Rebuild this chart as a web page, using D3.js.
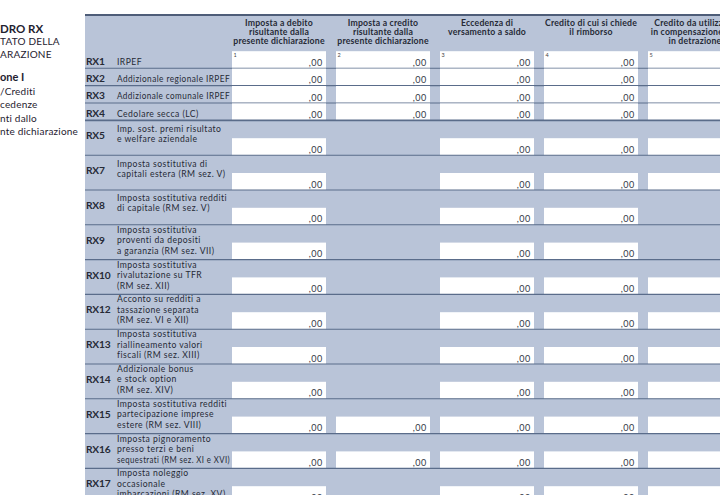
<!DOCTYPE html>
<html>
<head>
<meta charset="utf-8">
<script src="https://cdn.jsdelivr.net/npm/d3@7"></script>
<style>
html, body { margin: 0; padding: 0; background: #fff; overflow: hidden; }
svg { display: block; font-family: Lato, "Noto Sans", sans-serif; }
</style>
</head>
<body>
<script>
// rows of the form
var codes = ['RX1', 'RX2', 'RX3', 'RX4', 'RX5', 'RX7', 'RX8', 'RX9', 'RX10', 'RX12', 'RX13', 'RX14', 'RX15', 'RX16', 'RX17'];
var descriptions = [
    ['IRPEF'],
    ['Addizionale regionale IRPEF'],
    ['Addizionale comunale IRPEF'],
    ['Cedolare secca (LC)'],
    ['Imp. sost. premi risultato', 'e welfare aziendale'],
    ['Imposta sostitutiva di', 'capitali estera (RM sez. V)'],
    ['Imposta sostitutiva redditi', 'di capitale (RM sez. V)'],
    ['Imposta sostitutiva', 'proventi da depositi', 'a garanzia (RM sez. VII)'],
    ['Imposta sostitutiva', 'rivalutazione su TFR', '(RM sez. XII)'],
    ['Acconto su redditi a', 'tassazione separata', '(RM sez. VI e XII)'],
    ['Imposta sostitutiva', 'riallineamento valori', 'fiscali (RM sez. XIII)'],
    ['Addizionale bonus', 'e stock option', '(RM sez. XIV)'],
    ['Imposta sostitutiva redditi', 'partecipazione imprese', 'estere (RM sez. VIII)'],
    ['Imposta pignoramento', 'presso terzi e beni', 'sequestrati (RM sez. XI e XVI)'],
    ['Imposta noleggio', 'occasionale', 'imbarcazioni (RM sez. XV)']
];

// columns of the form
var fieldNumbers = ['1', '2', '3', '4', '5'];
var columnHeaders = [
    ['Imposta a debito', 'risultante dalla', 'presente dichiarazione'],
    ['Imposta a credito', 'risultante dalla', 'presente dichiarazione'],
    ['Eccedenza di', 'versamento a saldo'],
    ['Credito di cui si chiede', 'il rimborso'],
    ['Credito da utilizzare', 'in compensazione e/o', 'in detrazione']
];

// which fields each row has
var rowFields = [
    ['1', '2', '3', '4', '5'],
    ['1', '2', '3', '4', '5'],
    ['1', '2', '3', '4', '5'],
    ['1', '2', '3', '4', '5'],
    ['1', '3', '4', '5'],
    ['1', '3', '4', '5'],
    ['1', '3', '4'],
    ['1', '3', '4'],
    ['1', '3', '4', '5'],
    ['1', '3', '4', '5'],
    ['1', '3', '4', '5'],
    ['1', '3', '4', '5'],
    ['1', '2', '3', '4', '5'],
    ['1', '2', '3', '4', '5'],
    ['1', '3', '4', '5']
];
var amount = ',00';

// left margin titles (cut by the page edge)
var sideTitle = ['DRO RX', 'TATO DELLA', 'ARAZIONE'];
var sideSection = ['one I', '/Crediti', 'cedenze', 'nti dallo', 'nte dichiarazione'];

var width = 720, height = 495;
var panelLeft = 85, panelTop = 15;
var descLeft = 117, descMax = 113;
var fill = '#b9c4d8', lineColor = '#5a6c8a', ink = '#262a36';

var svg = d3.select('body').append('svg')
    .attr('width', width)
    .attr('height', height);

// row positions: one unit for single-line rows, two for the rest
var rows = codes.map(function(c, i) {
    return { code: c, desc: descriptions[i], fields: rowFields[i], units: descriptions[i].length > 1 ? 2 : 1 };
});
var acc = 0;
rows.forEach(function(r) { r.start = acc; acc += r.units; r.end = acc; });

var y = d3.scaleLinear().domain([0, acc]).range([50.8, 50.8 + acc * 17.4]);
var x = d3.scaleBand().domain(fieldNumbers).range([232, 742]).paddingInner(0.096).paddingOuter(0);

svg.append('rect')
    .attr('x', panelLeft).attr('y', panelTop)
    .attr('width', width - panelLeft).attr('height', height - panelTop)
    .attr('fill', fill);

svg.append('line')
    .attr('x1', panelLeft).attr('x2', width)
    .attr('y1', panelTop).attr('y2', panelTop)
    .attr('stroke', '#4e5d78').attr('stroke-width', 2);

// column headers
var head = svg.append('g')
    .attr('font-size', 8.7)
    .attr('font-weight', 'bold')
    .attr('letter-spacing', 0.2)
    .attr('fill', ink)
    .attr('text-anchor', 'middle');

head.selectAll('text')
    .data(fieldNumbers)
    .join('text')
    .attr('transform', function(d) { return 'translate(' + (x(d) + x.bandwidth() / 2) + ',0)'; })
    .selectAll('tspan')
    .data(function(d, i) { return columnHeaders[i]; })
    .join('tspan')
    .attr('x', 0)
    .attr('y', function(d, i) { return 25.5 + i * 9; })
    .text(function(d) { return d; });

// rows
var row = svg.selectAll('g.row')
    .data(rows)
    .join('g')
    .attr('class', 'row');

row.selectAll('rect')
    .data(function(r) { return r.fields.map(function(f) { return { row: r, field: f }; }); })
    .join('rect')
    .attr('x', function(d) { return x(d.field); })
    .attr('y', function(d) { return y(d.row.end) - 17; })
    .attr('width', x.bandwidth())
    .attr('height', 17)
    .attr('fill', '#fff');

row.selectAll('text.amount')
    .data(function(r) { return r.fields.map(function(f) { return { row: r, field: f }; }); })
    .join('text')
    .attr('class', 'amount')
    .attr('x', function(d) { return x(d.field) + x.bandwidth() - 3.5; })
    .attr('y', function(d) { return y(d.row.end) - 2.5; })
    .attr('text-anchor', 'end')
    .attr('font-size', 9)
    .attr('letter-spacing', 0.4)
    .attr('fill', '#333a48')
    .text(amount);

row.append('line')
    .attr('x1', panelLeft).attr('x2', width)
    .attr('y1', function(r) { return y(r.end); })
    .attr('y2', function(r) { return y(r.end); })
    .attr('stroke', lineColor)
    .attr('stroke-width', function(r, i) { return i === 3 ? 1.6 : 1.1; });

row.append('text')
    .attr('x', 86)
    .attr('y', function(r) {
        var c = (y(r.start) + y(r.end)) / 2;
        return r.units === 1 ? c + 5 : c + 1.5;
    })
    .attr('font-size', 10.2)
    .attr('font-weight', 'bold')
    .attr('letter-spacing', -0.2)
    .attr('fill', ink)
    .text(function(r) { return r.code; });

// description lines, squeezed when they would run into the first field
row.selectAll('text.desc')
    .data(function(r) {
        var c = (y(r.start) + y(r.end)) / 2;
        var n = r.desc.length;
        var first = n === 1 ? c + 5 : n === 2 ? c - 6 : c - 9.5;
        var step = n === 2 ? 10 : 10.5;
        return r.desc.map(function(t, i) { return { t: t, y: first + i * step }; });
    })
    .join('text')
    .attr('class', 'desc')
    .attr('x', descLeft)
    .attr('y', function(d) { return d.y; })
    .attr('font-size', 8.6)
    .attr('letter-spacing', 0.45)
    .attr('fill', ink)
    .text(function(d) { return d.t; })
    .each(function() {
        if (this.getComputedTextLength() > descMax) {
            d3.select(this)
                .attr('textLength', descMax)
                .attr('lengthAdjust', 'spacingAndGlyphs');
        }
    });

// field numbers on the first row
svg.append('g')
    .selectAll('text')
    .data(rows[0].fields)
    .join('text')
    .attr('x', function(d) { return x(d) + 1.5; })
    .attr('y', y(rows[0].end) - 17 + 5.5)
    .attr('font-size', 5.5)
    .attr('fill', '#444')
    .text(function(d) { return d; });

// left margin
var side = svg.append('g').attr('fill', '#1f2230');
side.selectAll('text.t')
    .data(sideTitle)
    .join('text')
    .attr('class', 't')
    .attr('x', 0)
    .attr('y', function(d, i) { return 33 + (i === 0 ? 0 : 12 + (i - 1) * 13); })
    .attr('font-size', function(d, i) { return i === 0 ? 11.5 : 10; })
    .attr('font-weight', function(d, i) { return i === 0 ? 'bold' : 'normal'; })
    .attr('letter-spacing', function(d, i) { return i === 0 ? 0 : 0.2; })
    .text(function(d) { return d; });

side.selectAll('text.s')
    .data(sideSection)
    .join('text')
    .attr('class', 's')
    .attr('x', 0)
    .attr('y', function(d, i) { return 81 + i * 13.6; })
    .attr('font-size', function(d, i) { return i === 0 ? 11 : 10; })
    .attr('font-weight', function(d, i) { return i === 0 ? 'bold' : 'normal'; })
    .attr('letter-spacing', function(d, i) { return i === 0 ? 0 : 0.2; })
    .text(function(d) { return d; });
</script>
</body>
</html>
